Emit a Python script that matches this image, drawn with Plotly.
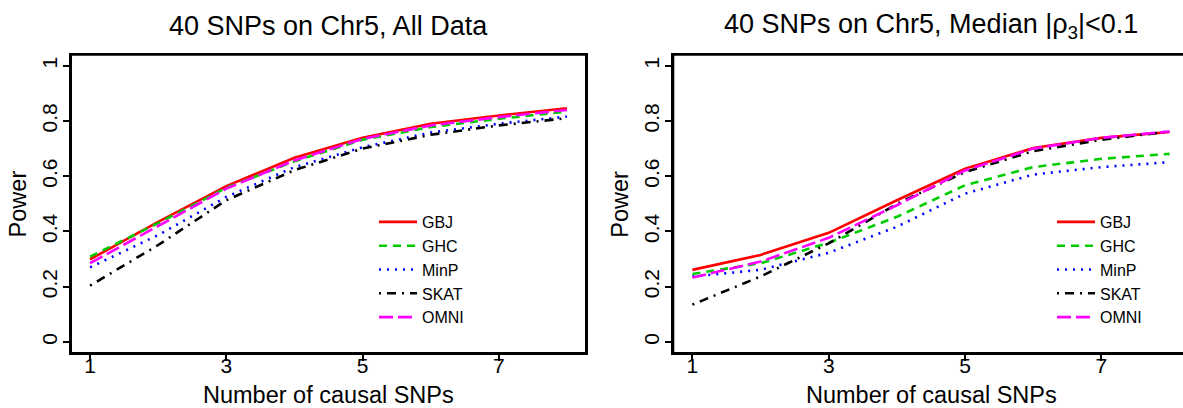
import plotly.graph_objects as go

# ---------------- data ----------------
n_causal = [1, 2, 3, 4, 5, 6, 7, 8]
methods = ["GBJ", "GHC", "MinP", "SKAT", "OMNI"]

# Left panel: 40 SNPs on Chr5, All Data
all_gbj = [0.299, 0.435, 0.564, 0.667, 0.739, 0.790, 0.820, 0.846]
all_ghc = [0.309, 0.430, 0.558, 0.654, 0.732, 0.778, 0.808, 0.834]
all_minp = [0.270, 0.387, 0.525, 0.633, 0.705, 0.758, 0.790, 0.816]
all_skat = [0.204, 0.351, 0.513, 0.622, 0.700, 0.750, 0.784, 0.810]
all_omni = [0.285, 0.420, 0.555, 0.657, 0.735, 0.784, 0.814, 0.840]

# Right panel: 40 SNPs on Chr5, Median |rho3| < 0.1
med_gbj = [0.261, 0.315, 0.395, 0.513, 0.627, 0.702, 0.739, 0.760]
med_ghc = [0.246, 0.285, 0.359, 0.453, 0.567, 0.633, 0.663, 0.681]
med_minp = [0.237, 0.261, 0.323, 0.417, 0.537, 0.606, 0.633, 0.651]
med_skat = [0.135, 0.237, 0.357, 0.500, 0.615, 0.691, 0.732, 0.762]
med_omni = [0.233, 0.291, 0.377, 0.495, 0.621, 0.700, 0.739, 0.762]

x_tick_vals = [1, 3, 5, 7]
y_tick_vals = [0, 0.2, 0.4, 0.6, 0.8, 1]
y_tick_text = ["0", "0.2", "0.4", "0.6", "0.8", "1"]

titles = ["40 SNPs on Chr5, All Data",
          "40 SNPs on Chr5, Median |\u03c1<sub>3</sub>|&lt;0.1"]
x_title = "Number of causal SNPs"
y_title = "Power"

# ---------------- styling ----------------
FONT = "Liberation Sans, Arial, Helvetica, sans-serif"
colors = {"GBJ": "#FF0000", "GHC": "#00CD00", "MinP": "#0000FF",
          "SKAT": "#000000", "OMNI": "#FF00FF"}
dashes = {"GBJ": "solid", "GHC": "8px,6px", "MinP": "2px,6px",
          "SKAT": "2px,6px,9px,6px", "OMNI": "14px,5px"}

W, H = 1183, 408
left_dom = [71 / W, 586 / W]
right_dom = [673.3 / W, 1.0]
y_dom = [55 / H, (H - 54.7) / H]

fig = go.Figure()

panels = [
    (dict(zip(methods, [all_gbj, all_ghc, all_minp, all_skat, all_omni])), "x", "y", "legend"),
    (dict(zip(methods, [med_gbj, med_ghc, med_minp, med_skat, med_omni])), "x2", "y2", "legend2"),
]
for series, xa, ya, lg in panels:
    for m in methods:
        fig.add_trace(go.Scatter(
            x=n_causal, y=series[m], mode="lines", name=m,
            line=dict(color=colors[m], width=2.6, dash=dashes[m]),
            xaxis=xa, yaxis=ya, legend=lg, showlegend=True,
        ))

axis_common = dict(
    showgrid=False, zeroline=False, showline=True, linecolor="#000000",
    linewidth=2, ticks="outside", ticklen=6, tickwidth=1.5, tickcolor="#000000",
    tickfont=dict(family=FONT, size=21, color="black"),
)

legend_common = dict(xanchor="left", yanchor="top", bgcolor="rgba(0,0,0,0)",
                     font=dict(family=FONT, size=16, color="black"),
                     tracegroupgap=0, itemwidth=38)

fig.update_layout(
    width=W, height=H,
    margin=dict(l=0, r=0, t=0, b=0),
    paper_bgcolor="white", plot_bgcolor="white",
    font=dict(family=FONT, color="black"),
    xaxis=dict(domain=left_dom, range=[0.72, 8.28], tickvals=x_tick_vals,
               mirror=True, anchor="y", ticklabelstandoff=-13, **axis_common),
    yaxis=dict(domain=y_dom, range=[-0.04, 1.04], tickvals=y_tick_vals,
               ticktext=y_tick_text, tickangle=-90, mirror=True, anchor="x",
               ticklabelstandoff=-2, **axis_common),
    xaxis2=dict(domain=right_dom, range=[0.72, 0.72 + (W - 673.3) / 68.17],
                tickvals=x_tick_vals, mirror=True, anchor="y2",
                ticklabelstandoff=-13, **axis_common),
    yaxis2=dict(domain=y_dom, range=[-0.04, 1.04], tickvals=y_tick_vals,
                ticktext=y_tick_text, tickangle=-90, mirror=False, anchor="x2",
                ticklabelstandoff=-2, **axis_common),
    legend=dict(x=374 / W, y=(H - 205) / H, **legend_common),
    legend2=dict(x=1052 / W, y=(H - 205) / H, **legend_common),
)

# plot frames (left: full box; right: box runs past the right edge of the page)
frame_line = dict(color="#000000", width=2)
shapes = [
    dict(type="rect", xref="x domain", yref="y domain", x0=0, x1=1, y0=0, y1=1,
         line=frame_line, layer="above"),
    dict(type="line", xref="x2 domain", yref="y2 domain", x0=0, x1=1, y0=1, y1=1,
         line=frame_line, layer="above"),
    dict(type="line", xref="x2 domain", yref="y2 domain", x0=0, x1=1, y0=0, y1=0,
         line=frame_line, layer="above"),
    dict(type="line", xref="x2 domain", yref="y2 domain", x0=0, x1=0, y0=0, y1=1,
         line=frame_line, layer="above"),
]

left_c = (71 + 586) / 2 / W
right_c = (673.3 + 1189) / 2 / W
ann = []
for cx, t in [(left_c, titles[0]), (right_c, titles[1])]:
    ann.append(dict(text=t, x=cx, y=(H - 26.5) / H, xref="paper", yref="paper",
                    xanchor="center", yanchor="middle", showarrow=False,
                    font=dict(family=FONT, size=27, color="black")))
    ann.append(dict(text=x_title, x=cx, y=(H - 395) / H, xref="paper", yref="paper",
                    xanchor="center", yanchor="middle", showarrow=False,
                    font=dict(family=FONT, size=23.5, color="black")))
for px in [17.5, 619.8]:
    ann.append(dict(text=y_title, x=px / W, y=(H - 203.9) / H, xref="paper",
                    yref="paper", xanchor="center", yanchor="middle",
                    textangle=-90, showarrow=False,
                    font=dict(family=FONT, size=23.5, color="black")))
fig.update_layout(annotations=ann, shapes=shapes)

fig.write_html("out.html", config={"displayModeBar": False},
               post_script="document.body.style.margin='0';")
